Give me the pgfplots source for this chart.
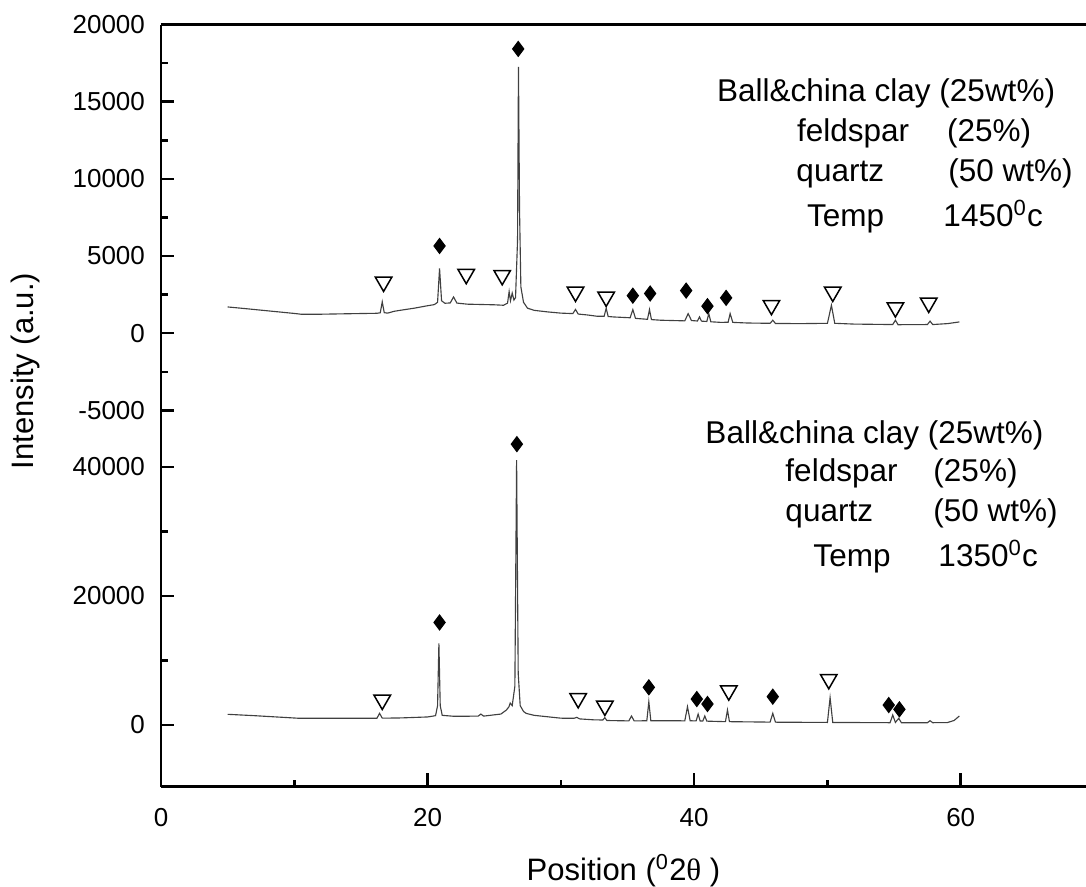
\documentclass[border=0pt]{standalone}
\usepackage{fontspec}
\setmainfont{Liberation Sans}
\newfontfamily\greekserif{Liberation Serif}
\usepackage{pgfplots}
\usepackage{pgfplotstable}
\pgfplotsset{compat=1.18}

\pgfplotstableread{
x y
5.0 1700
6 1620
8 1450
10 1280
10.5 1230
12 1230
14 1260
16.2 1290
16.45 1320
16.6 2030
16.75 1330
17 1300
17.5 1420
18 1490
19 1620
20 1780
20.5 1850
20.75 2000
20.9 4200
21.05 2100
21.3 1940
21.7 1960
21.95 2350
22.2 1950
23 1880
24 1860
25 1840
25.7 1810
26.0 1950
26.12 2700
26.22 2100
26.35 2600
26.48 2150
26.6 2300
26.75 6000
26.82 17250
26.9 8000
27.0 3000
27.2 2000
27.5 1620
28 1480
29 1380
30 1300
30.9 1270
31.1 1540
31.3 1240
32 1180
32.7 1100
33.25 1100
33.4 1620
33.55 1080
34 1050
35.2 1000
35.4 1530
35.6 960
36.5 900
36.65 1530
36.8 880
37.5 840
39.3 800
39.55 1270
39.8 820
40.25 790
40.4 1060
40.55 780
40.95 760
41.1 1270
41.25 740
42 700
42.55 710
42.7 1270
42.9 700
44 660
45.7 640
45.9 840
46.1 630
48 620
50.0 640
50.3 1810
50.55 640
52 590
54.9 560
55.1 840
55.3 550
57.5 560
57.7 780
57.9 560
59 620
59.9 730
}\upperdata

\pgfplotstableread{
x y
5.0 1660
7 1450
10.4 1040
14 1040
16.2 1050
16.4 1810
16.6 1060
18 1100
20 1250
20.6 1450
20.75 3000
20.85 12660
20.95 3000
21.1 1500
22 1350
23.8 1380
24.0 1700
24.2 1380
25.5 1700
25.9 2300
26.1 2800
26.2 3400
26.35 3000
26.55 6000
26.68 41080
26.8 8000
26.95 3000
27.2 2100
27.4 1800
28 1500
30 1060
31.0 1050
31.2 1190
31.4 950
32.5 800
33.15 780
33.3 1140
33.45 700
35.1 640
35.3 1400
35.5 640
36.45 660
36.6 3620
36.75 670
39.3 650
39.5 2840
39.7 660
40.15 640
40.3 1700
40.45 630
40.65 620
40.8 1400
40.95 600
42.35 520
42.5 2330
42.65 520
45.7 450
45.9 1810
46.1 440
50.0 400
50.2 4240
50.4 400
54.7 360
54.9 1550
55.1 400
55.35 1040
55.55 360
57.5 360
57.7 670
57.9 360
59.0 380
59.5 700
59.9 1400
}\lowerdata

\pgfplotsset{
  xrdbase/.style={
    scale only axis, width=370pt, xmin=0, xmax=69.4,
    axis line style={line width=1pt},
    every tick/.style={line width=1pt, black},
    tick align=inside,
    major tick length=5.3pt, minor tick length=2.7pt,
    tick label style={font=\fontsize{10.4}{12}\selectfont},
    /pgf/number format/assume math mode=true,
    /pgf/number format/1000 sep={},
    scaled ticks=false,
    yticklabel style={xshift=-2.9pt},
    xticklabel style={yshift=-5.1pt},
  },
  curve/.style={line width=0.45pt, color=black!75, mark=none},
  tri/.style={only marks, mark=triangle, mark size=3.8pt, mark options={rotate=180, fill=white, draw=black, line width=0.6pt}},
  dia/.style={only marks, mark=diamond*, mark size=3pt, mark options={fill=black, draw=black}},
}

\begin{document}
\begin{tikzpicture}
\useasboundingbox (0,0) rectangle (434.4pt,-354.4pt);

\begin{axis}[xrdbase, at={(64.4pt,-175.6pt)}, anchor=south west, height=165.8pt,
  ymin=-6856, ymax=20000, axis x line*=top, axis y line*=left, xtick=\empty,
  ytick={-5000,0,5000,10000,15000,20000}, minor ytick={-2500,2500,7500,12500,17500}]
\addplot[curve] table[x=x,y=y] {\upperdata};
\addplot[tri] coordinates {(16.7,3320) (22.9,3820) (25.6,3750) (31.1,2670) (33.4,2350) (45.8,1810) (50.4,2670) (55.1,1660) (57.6,1960)};
\addplot[dia] coordinates {(20.9,5650) (26.8,18420) (35.4,2430) (36.7,2570) (39.4,2760) (41.0,1750) (42.4,2290)};
\end{axis}

\begin{axis}[xrdbase, at={(64.4pt,-175.6pt)}, anchor=north west, height=139pt,
  ymin=-9535, ymax=44340, axis x line*=bottom, axis y line*=left,
  xtick={0,20,40,60}, minor xtick={10,30,50},
  ytick={0,20000,40000}, minor ytick={10000,30000}]
\addplot[curve] table[x=x,y=y] {\lowerdata};
\addplot[tri] coordinates {(16.6,3880) (31.3,4130) (33.3,2950) (42.6,5320) (50.1,7080)};
\addplot[dia] coordinates {(20.9,15900) (26.7,43550) (36.6,5840) (40.2,4030) (41.0,3260) (45.9,4390) (54.6,3100) (55.4,2430)};
\end{axis}

\begin{scope}[x=0.4pt,y=-0.4pt, every node/.style={inner sep=0pt, font=\fontsize{12.6}{14}\selectfont}]
\node[anchor=base west] at (716.7,101.7) {Ball\&china clay (25wt\%)};
\node[anchor=base west] at (796.7,141.7) {feldspar};
\node[anchor=base west] at (946.7,141.7) {(25\%)};
\node[anchor=base west] at (796,181.7) {quartz};
\node[anchor=base west] at (948,181.7) {(50 wt\%)};
\node[anchor=base west] at (806.7,226.7) {Temp};
\node[anchor=base west] at (943,226.7) {1450\textsuperscript{0}c};

\node[anchor=base west] at (705,443.3) {Ball\&china clay (25wt\%)};
\node[anchor=base west] at (785,481.7) {feldspar};
\node[anchor=base west] at (933,481.7) {(25\%)};
\node[anchor=base west] at (785,521.7) {quartz};
\node[anchor=base west] at (933,521.7) {(50 wt\%)};
\node[anchor=base west] at (813,566.7) {Temp};
\node[anchor=base west] at (938,566.7) {1350\textsuperscript{0}c};

\node[anchor=base, rotate=90, font=\fontsize{12.4}{14}\selectfont] at (33.3,371) {Intensity (a.u.)};
\node[anchor=base, font=\fontsize{12.4}{14}\selectfont] at (623.5,880) {Position (\textsuperscript{0}2{\greekserif θ} )};
\end{scope}
\end{tikzpicture}
\end{document}
